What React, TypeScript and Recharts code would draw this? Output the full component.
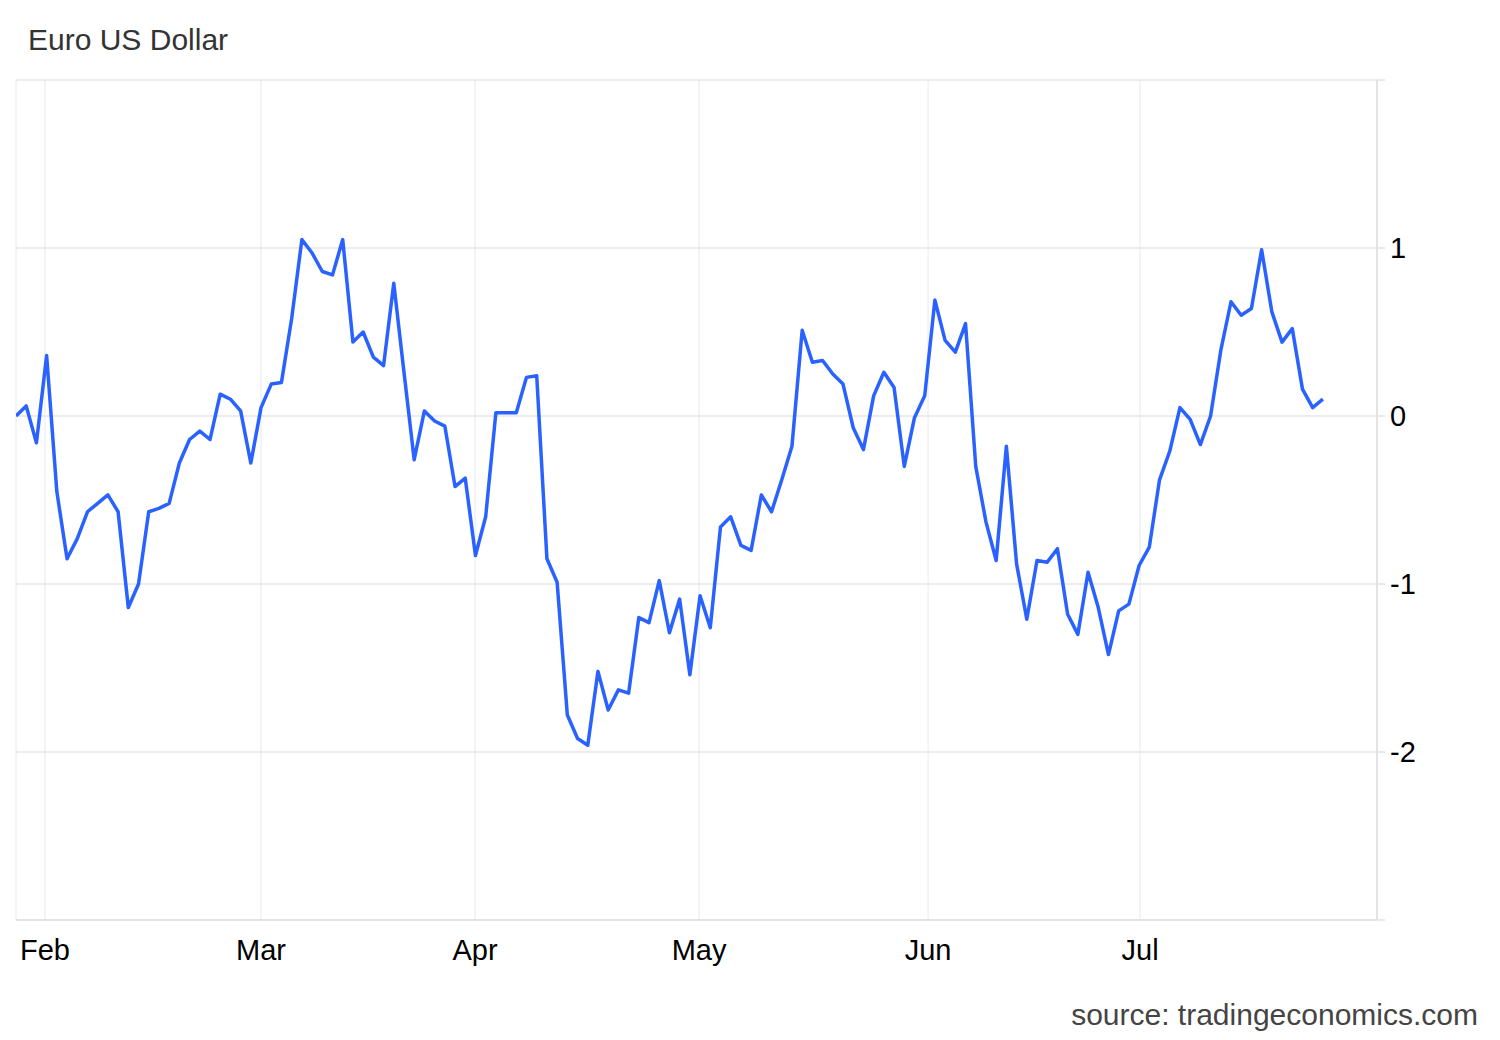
import { LineChart, Line, XAxis, YAxis, CartesianGrid } from "recharts";

// EUR/USD daily change, one value per trading day (Feb to late Jul)
const values = [
    0.0, 0.06, -0.16, 0.36, -0.45, -0.85, -0.73, -0.57, -0.52, -0.47,
    -0.57, -1.14, -1.0, -0.57, -0.55, -0.52, -0.28, -0.14, -0.09, -0.14,
    0.13, 0.1, 0.03, -0.28, 0.05, 0.19, 0.2, 0.58, 1.05, 0.97,
    0.86, 0.84, 1.05, 0.44, 0.5, 0.35, 0.3, 0.79, 0.26, -0.26,
    0.03, -0.03, -0.06, -0.42, -0.37, -0.83, -0.6, 0.02, 0.02, 0.02,
    0.23, 0.24, -0.85, -0.99, -1.78, -1.92, -1.96, -1.52, -1.75, -1.63,
    -1.65, -1.2, -1.23, -0.98, -1.29, -1.09, -1.54, -1.07, -1.26, -0.66,
    -0.6, -0.77, -0.8, -0.47, -0.57, -0.38, -0.18, 0.51, 0.32, 0.33,
    0.25, 0.19, -0.07, -0.2, 0.12, 0.26, 0.17, -0.3, -0.01, 0.12,
    0.69, 0.45, 0.38, 0.55, -0.3, -0.63, -0.86, -0.18, -0.88, -1.21,
    -0.86, -0.87, -0.79, -1.18, -1.3, -0.93, -1.14, -1.42, -1.16, -1.12,
    -0.89, -0.78, -0.38, -0.21, 0.05, -0.02, -0.17, 0.0, 0.39, 0.68,
    0.6, 0.64, 0.99, 0.62, 0.44, 0.52, 0.16, 0.05, 0.1,
];

// month starts, in trading-day units
const monthTicks = [2.84, 24.0, 44.96, 66.9, 89.33, 110.1];
const monthLabels = ["Feb", "Mar", "Apr", "May", "Jun", "Jul"];

const yTicks = [-3, -2, -1, 0, 1, 2];
const yLabels = ["", "-2", "-1", "0", "1", ""];

const data = values.map((v, i) => ({ day: i, value: v }));

const FONT = "'Liberation Sans', Arial, Helvetica, sans-serif";

export default function App() {
    return (
        <div
            style={{
                position: "absolute",
                left: 0,
                top: 0,
                width: 1500,
                height: 1040,
                background: "#fff",
                fontFamily: FONT,
            }}
        >
            <div
                style={{
                    position: "absolute",
                    left: 28,
                    top: 25,
                    fontSize: 30,
                    lineHeight: "30px",
                    color: "#333",
                }}
            >
                Euro US Dollar
            </div>
            <LineChart
                width={1500}
                height={1040}
                data={data}
                margin={{ top: 80, right: 23, bottom: 60, left: 16 }}
            >
                <CartesianGrid horizontal={false} stroke="#eef1f5" strokeWidth={1.5} />
                <CartesianGrid vertical={false} stroke="#e6e6e6" strokeWidth={1.5} />
                <XAxis
                    dataKey="day"
                    type="number"
                    domain={[0, 133.3]}
                    allowDataOverflow
                    ticks={monthTicks}
                    interval={0}
                    tickFormatter={(v) => monthLabels[monthTicks.indexOf(v)]}
                    height={60}
                    tickLine={false}
                    tickSize={0}
                    tickMargin={19}
                    axisLine={{ stroke: "#e3e3e3", strokeWidth: 2 }}
                    tick={{ fill: "#000", fontSize: 29, fontFamily: FONT }}
                />
                <YAxis
                    orientation="right"
                    type="number"
                    domain={[-3, 2]}
                    ticks={yTicks}
                    interval={0}
                    tickFormatter={(v) => yLabels[yTicks.indexOf(v)]}
                    width={100}
                    tickSize={8}
                    tickMargin={5}
                    axisLine={{ stroke: "#e3e3e3", strokeWidth: 2 }}
                    tickLine={{ stroke: "#e3e3e3", strokeWidth: 1.5 }}
                    tick={{ fill: "#000", fontSize: 29, fontFamily: FONT }}
                />
                <Line
                    type="linear"
                    dataKey="value"
                    stroke="#2962ff"
                    strokeWidth={3.5}
                    strokeLinejoin="round"
                    dot={false}
                    isAnimationActive={false}
                />
            </LineChart>
            <div
                style={{
                    position: "absolute",
                    right: 22,
                    top: 1000,
                    fontSize: 30,
                    lineHeight: "30px",
                    color: "#444",
                }}
            >
                source: tradingeconomics.com
            </div>
        </div>
    );
}
